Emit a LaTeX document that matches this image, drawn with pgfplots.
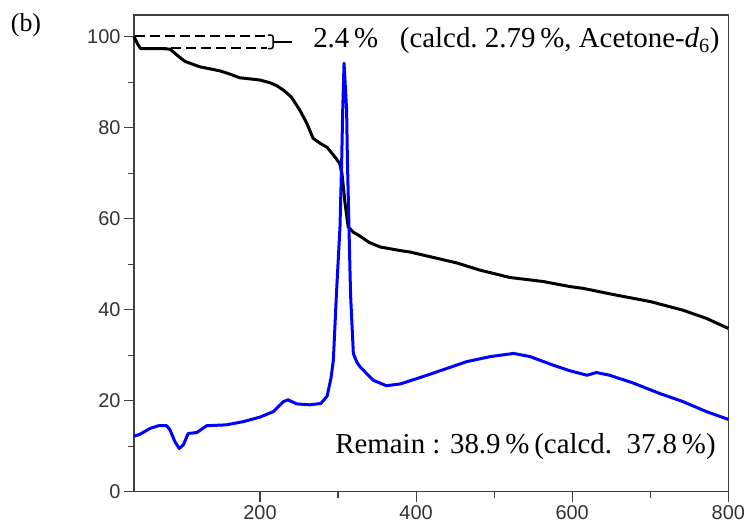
\documentclass[border=0pt]{standalone}
\usepackage{pgfplots}
\pgfplotsset{compat=1.18}
\usepackage{fontspec}
\setmainfont{Liberation Serif}
\newfontfamily\arial{Liberation Sans}

\begin{document}
\begin{tikzpicture}
\useasboundingbox (-134bp,-37.3bp) rectangle (617bp,491.7bp);
\node[font=\fontsize{26}{26}\selectfont] at (-108bp,466bp) {(b)};
\begin{axis}[
    scale only axis,
    width=594.3bp, height=476.7bp,
    xmin=38.6, xmax=800,
    ymin=0, ymax=104.8,
    xtick={200,400,600,800},
    ytick={0,20,40,60,80,100},
    minor tick num=1,
    tick align=outside,
    tick pos=left,
    major tick length=10bp,
    minor tick length=6bp,
    axis line style={black!75, line width=1.1bp},
    every tick/.style={black!75, line width=1.1bp},
    tick label style={font=\arial\fontsize{20}{20}\selectfont, text=black!80},
    /pgf/number format/assume math mode=true,
    clip=false,
]
% TGA weight loss
\addplot[black, line width=3bp, line join=round] coordinates {
    (38.6,100) (43,98.5) (47,97.4) (60,97.4) (75,97.4) (84.7,97.3)
    (95,95.8) (104,94.6) (115,93.9) (123,93.4) (135,93.0) (149,92.5)
    (160,91.9) (174,91.0) (190,90.7) (200,90.5) (213,89.9) (222,89.2)
    (230,88.3) (240,86.8) (251,83.9) (260,81.0) (268,77.7) (277,76.6)
    (286,75.7) (296,73.6) (302,72.2) (305,70) (309,63.4) (313,58.2)
    (320,57) (328,56.2) (340,54.8) (354,53.8) (380,53.0) (392,52.7)
    (422,51.5) (452,50.3) (482,48.7) (520,47.1) (563,46.2) (597,45.1)
    (614,44.7) (657,43.2) (700,41.8) (742,39.9) (772,38.1) (800,35.9)
};
% DTA / heat flow
\addplot[blue, line width=3bp, line join=round] coordinates {
    (38.6,12.2) (46,12.6) (59,13.9) (70,14.5) (80.5,14.5) (84.7,13.6)
    (91,11.0) (96.6,9.5) (101.8,10.3) (108,12.8) (119,13.0) (131.7,14.5)
    (157,14.7) (178.6,15.4) (200,16.4) (217,17.6) (230,19.8) (236,20.2)
    (247,19.3) (264,19.1) (278,19.4) (286,21) (291,25) (294,28.9)
    (298,43.6) (302.5,58.2) (304.7,72.9) (306,83.9) (307.7,94.2)
    (311,83.9) (312,73) (314,58.2) (316,43.6) (319.6,30.4) (324,28.5)
    (328,27.5) (345,24.5) (362,23.3) (380,23.7) (414,25.6) (465,28.6)
    (495,29.7) (525,30.4) (546,29.7) (576,27.8) (597,26.6) (619,25.6)
    (631,26.2) (648,25.6) (678,23.9) (712,21.6) (742,19.8) (772,17.6)
    (800,15.9)
};
% 2.4 % step markers
\addplot[black, line width=2bp, dash pattern=on 10bp off 5bp] coordinates {(40,100.2) (209,100.2)};
\addplot[black, line width=2bp, dash pattern=on 10bp off 5bp] coordinates {(48,97.6) (209,97.6)};
\draw[black, line width=1.5bp, rounded corners=2.5bp]
    (axis cs:210,100.4) -- (axis cs:217,100.4) -- (axis cs:217,97.4) -- (axis cs:210,97.4);
\draw[black, line width=1.5bp] (axis cs:217,98.9) -- (axis cs:241,98.9);
\node[anchor=west, font=\fontsize{29}{29}\selectfont, inner sep=0pt]
    at (axis cs:268,99.1) {2.4\,\%\hspace{0.75em}(calcd.\ 2.79\,\%, Acetone-\textit{d}\textsubscript{6})};
\node[anchor=east, font=\fontsize{29}{29}\selectfont, inner sep=0pt]
    at (axis cs:784,10.0) {Remain : 38.9\,\%\,(calcd.\ \ 37.8\,\%)};
\end{axis}
\end{tikzpicture}
\end{document}
